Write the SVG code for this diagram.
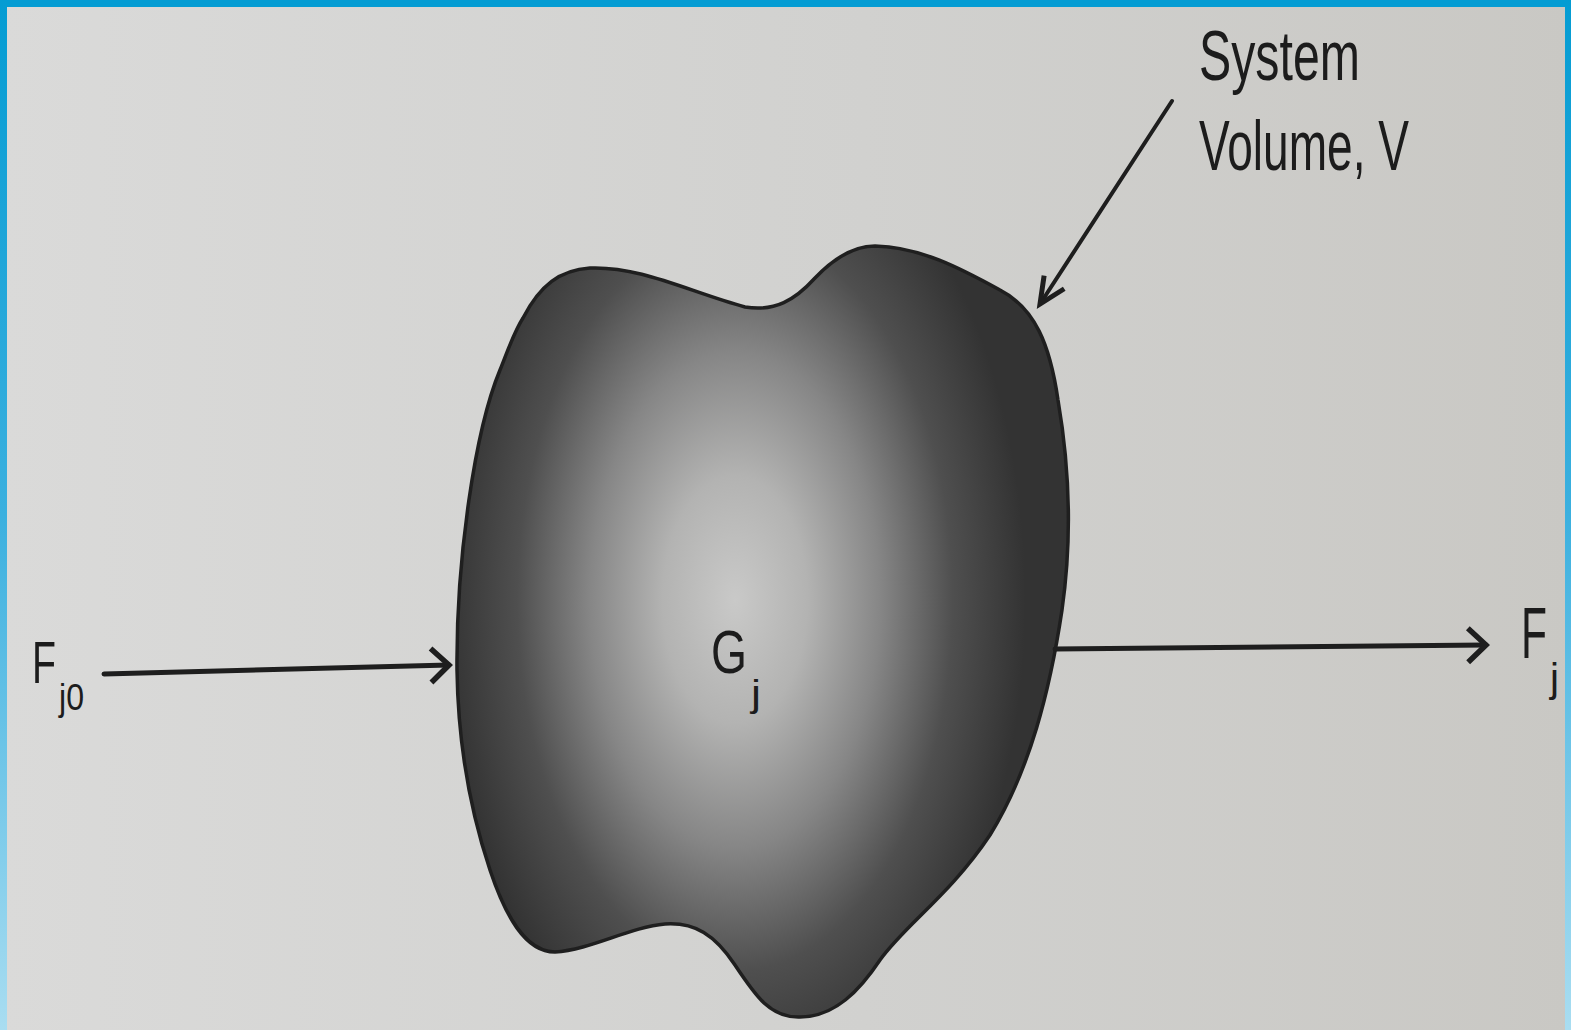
<svg xmlns="http://www.w3.org/2000/svg" width="1571" height="1030" viewBox="0 0 1571 1030">
<style>
.lbl{font-family:"Liberation Sans","Arial",sans-serif;fill:#1c1c1c}
.conn{stroke:#1e1e1e;fill:none;stroke-linecap:round}
</style>
<defs>
<linearGradient id="paper" x1="0" y1="0" x2="1" y2="0">
<stop offset="0" stop-color="#dadad9"/>
<stop offset="0.55" stop-color="#d1d1cf"/>
<stop offset="1" stop-color="#c9c8c4"/>
</linearGradient>
<linearGradient id="frame" x1="0" y1="0" x2="0" y2="1">
<stop offset="0" stop-color="#049cd3"/>
<stop offset="0.5" stop-color="#3bb0df"/>
<stop offset="1" stop-color="#a9ddf1"/>
</linearGradient>
<radialGradient id="blobfill" cx="735" cy="600" r="330" gradientUnits="userSpaceOnUse" gradientTransform="translate(735 600) scale(0.88 1.5) translate(-735 -600)">
<stop offset="0" stop-color="#c9c9c8"/>
<stop offset="0.25" stop-color="#b3b3b2"/>
<stop offset="0.5" stop-color="#868686"/>
<stop offset="0.75" stop-color="#4f4f4f"/>
<stop offset="1" stop-color="#333333"/>
</radialGradient>
<marker id="arrowH" markerUnits="userSpaceOnUse" markerWidth="40" markerHeight="40" refX="0" refY="0" orient="auto" overflow="visible" viewBox="-30 -20 40 40">
<path d="M-18,-17 L0,0 L-18,17" fill="none" stroke="#1e1e1e" stroke-width="5.5" stroke-linejoin="miter"/>
</marker>
<marker id="arrowP" markerUnits="userSpaceOnUse" markerWidth="40" markerHeight="40" refX="0" refY="0" orient="auto" overflow="visible" viewBox="-30 -20 40 40">
<path d="M-26,-12 L0,0 L-26,12" fill="none" stroke="#1e1e1e" stroke-width="5" stroke-linejoin="miter"/>
</marker>
</defs>
<rect x="0" y="0" width="1571" height="1030" fill="url(#paper)"/>
<rect x="0" y="0" width="1571" height="7" fill="#049cd3"/>
<rect x="0" y="0" width="7" height="1030" fill="url(#frame)"/>
<rect x="1565" y="0" width="6" height="1030" fill="url(#frame)"/>

<g id="system-volume">
<path d="M523,318 C540,285 560,270 590,268 C640,266 690,292 745,307 C775,312 795,300 815,278 C835,257 855,246 875,246 C920,247 960,268 1000,290 C1035,308 1050,345 1058,400 C1070,470 1072,540 1062,610 C1050,690 1030,770 990,835 C950,895 905,925 880,960 C860,990 835,1017 800,1017 C770,1018 755,995 735,965 C715,935 695,922 665,924 C630,927 590,950 555,952 C525,952 505,915 490,870 C470,810 458,740 457,670 C456,560 475,430 500,370 C508,350 514,332 523,318 Z" fill="url(#blobfill)" stroke="#1f1f1f" stroke-width="3.5"/>
<text class="lbl" x="711" y="673" font-size="62" textLength="36" lengthAdjust="spacingAndGlyphs">G</text>
<text class="lbl" x="751" y="706" font-size="36" textLength="10" lengthAdjust="spacingAndGlyphs">j</text>
</g>

<g id="label-system">
<text class="lbl" x="1199" y="80" font-size="70" textLength="161" lengthAdjust="spacingAndGlyphs">System</text>
<text class="lbl" x="1199" y="170" font-size="70" textLength="210" lengthAdjust="spacingAndGlyphs">Volume, V</text>
</g>

<g id="label-fj0">
<text class="lbl" x="32" y="683" font-size="60" textLength="24" lengthAdjust="spacingAndGlyphs">F</text>
<text class="lbl" x="59" y="710" font-size="36" textLength="25" lengthAdjust="spacingAndGlyphs">j0</text>
</g>

<g id="label-fj">
<text class="lbl" x="1521" y="658" font-size="72" textLength="26" lengthAdjust="spacingAndGlyphs">F</text>
<text class="lbl" x="1550" y="692" font-size="40" textLength="9" lengthAdjust="spacingAndGlyphs">j</text>
</g>

<g id="connectors">
<line class="conn" x1="104" y1="674" x2="449" y2="665" stroke-width="5" marker-end="url(#arrowH)"/>
<line class="conn" x1="1055" y1="649" x2="1486" y2="645" stroke-width="5" marker-end="url(#arrowH)"/>
<line class="conn" x1="1172" y1="101" x2="1040" y2="304" stroke-width="4" marker-end="url(#arrowP)"/>
</g>
</svg>
